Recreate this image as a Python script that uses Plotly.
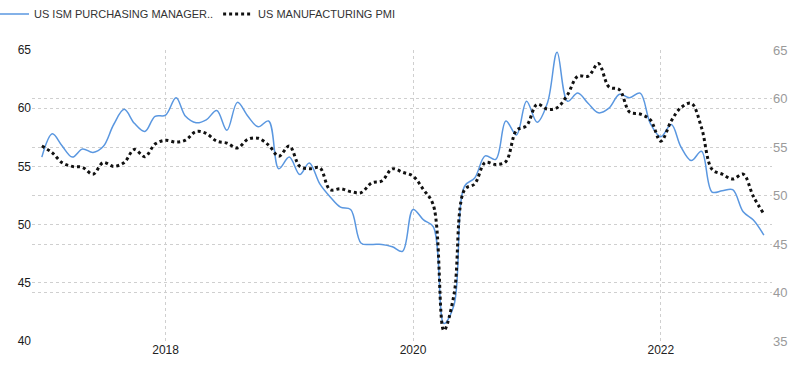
import pandas as pd
import plotly.graph_objects as go

months = pd.date_range("2017-01-01", periods=71, freq="MS")

ism_pmi = [55.8, 57.8, 56.8, 55.8, 56.5, 56.2, 56.7, 58.6, 59.9, 58.7, 58.0, 59.3,
           59.4, 60.9, 59.3, 58.75, 59.0, 59.8, 58.1, 60.5, 59.3, 58.4, 58.9, 54.8,
           55.8, 54.3, 55.3, 53.5, 52.4, 51.5, 51.3, 48.4, 48.3, 48.3, 48.1, 47.7,
           51.3, 50.4, 49.8, 41.5, 43.1, 53.3, 54.0, 55.9, 55.6, 58.9, 57.7, 60.6,
           58.8, 60.5, 64.8, 60.6, 61.3, 60.4, 59.6, 60.0, 61.2, 60.9, 61.3, 58.7,
           57.55, 58.6, 56.7, 55.5, 56.3, 52.8, 52.9, 53.0, 51.1, 50.4, 49.1]

mfg_pmi = [55.1, 54.4, 53.4, 53.0, 52.9, 52.2, 53.4, 53.0, 53.4, 54.75, 54.0, 55.3,
           55.7, 55.5, 55.7, 56.6, 56.4, 55.6, 55.4, 54.9, 55.8, 55.9, 55.2, 54.05,
           55.1, 53.0, 52.75, 52.85, 50.6, 50.7, 50.4, 50.3, 51.3, 51.5, 52.75, 52.4,
           52.0, 50.6, 49.0, 36.1, 39.8, 50.6, 51.2, 53.4, 53.2, 53.5, 56.7, 57.2,
           59.4, 58.9, 59.05, 60.4, 62.3, 62.3, 63.6, 61.2, 60.9, 58.6, 58.4, 57.8,
           55.6, 57.7, 59.05, 59.5, 57.0, 52.7, 52.2, 51.7, 52.2, 49.9, 48.1]

name_ism = "US ISM PURCHASING MANAGER.."
name_mfg = "US MANUFACTURING PMI"

left_ticks = [40, 45, 50, 55, 60, 65]
right_ticks = [35, 40, 45, 50, 55, 60, 65]

FONT = "Liberation Sans, Arial, sans-serif"

fig = go.Figure()
fig.add_trace(go.Scatter(
    x=months, y=ism_pmi, name=name_ism, mode="lines",
    line=dict(color="#5a97e0", width=1.5, shape="spline", smoothing=1.0),
    yaxis="y"))
fig.add_trace(go.Scatter(
    x=months, y=mfg_pmi, name=name_mfg, mode="lines",
    line=dict(color="#111111", width=3, dash="dot", shape="spline", smoothing=1.0),
    yaxis="y2"))

fig.update_layout(
    width=800, height=368,
    margin=dict(l=32, r=28, t=50, b=27, autoexpand=False),
    paper_bgcolor="white", plot_bgcolor="white",
    font=dict(family=FONT, color="#333"),
    showlegend=True,
    legend=dict(orientation="h", x=-0.0513, y=1.1237, yanchor="middle", xanchor="left",
                font=dict(size=11, color="#333", family=FONT),
                itemwidth=30, tracegroupgap=0, bgcolor="rgba(0,0,0,0)"),
    xaxis=dict(
        type="date", automargin=False,
        range=["2016-12-03", "2022-11-25"],
        tick0="2018-01-01", dtick="M24", tickformat="%Y",
        showgrid=True, gridcolor="#cfcfcf", griddash="dot", gridwidth=1,
        showline=False, zeroline=False, ticks="",
        tickfont=dict(size=12, color="#222")),
    yaxis=dict(
        range=[40, 65], tickvals=left_ticks, automargin=False,
        showgrid=True, gridcolor="#cfcfcf", griddash="dot", gridwidth=1,
        zeroline=False, showline=False, ticks="",
        tickfont=dict(size=12, color="#1a1a1a")),
    yaxis2=dict(
        range=[35, 65], tickvals=right_ticks, overlaying="y", side="right",
        automargin=False,
        showgrid=True, gridcolor="#cfcfcf", griddash="dot", gridwidth=1,
        zeroline=False, showline=False, ticks="",
        tickfont=dict(size=13, color="#9a9a9a")),
)

fig.write_html("out.html", config={"displayModeBar": False},
               post_script="document.body.style.margin='0';")
